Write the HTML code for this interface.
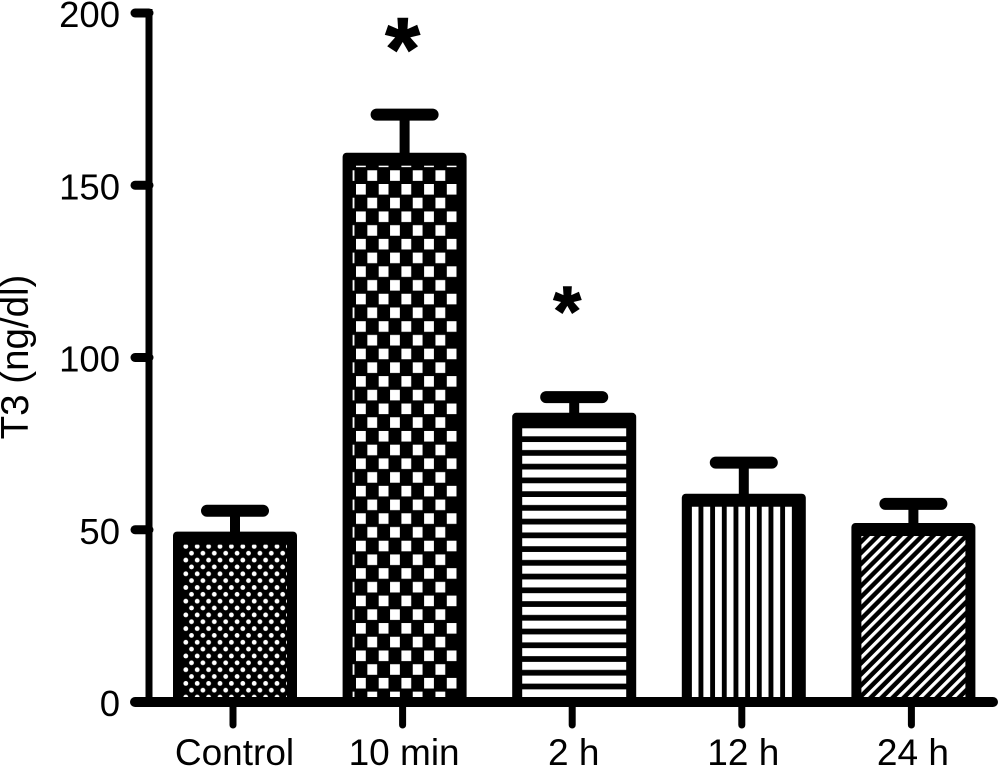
<!DOCTYPE html>
<html lang="en">
<head>
<meta charset="utf-8">
<title>T3 by time point</title>
<style>
html,body{margin:0;padding:0;background:#fff;width:1000px;height:767px;overflow:hidden}
svg{display:block;font-family:"Liberation Sans",Arial,sans-serif}
text{fill:#000}
</style>
</head>
<body>
<svg id="chart" width="1000" height="767" viewBox="0 0 1000 767" xmlns="http://www.w3.org/2000/svg">
  <defs>
    <pattern id="pat-dots" patternUnits="userSpaceOnUse" x="183" y="543" width="11.4" height="13.7">
      <rect width="11.4" height="13.7" fill="#000"/>
      <circle cx="2.8" cy="3.4" r="2.4" fill="#fff"/>
      <circle cx="8.5" cy="10.2" r="2.4" fill="#fff"/>
    </pattern>
    <pattern id="pat-checks" patternUnits="userSpaceOnUse" x="356" y="184" width="22.7" height="27.44">
      <rect width="22.7" height="27.44" fill="#000"/>
      <rect x="0" y="0" width="9.8" height="10.6" fill="#fff"/>
      <rect x="11.35" y="13.72" width="9.8" height="10.6" fill="#fff"/>
    </pattern>
    <pattern id="pat-hlines" patternUnits="userSpaceOnUse" x="522" y="428.3" width="13.74" height="13.74">
      <rect width="13.74" height="13.74" fill="#000"/>
      <rect y="0" width="13.74" height="8" fill="#fff"/>
    </pattern>
    <pattern id="pat-vlines" patternUnits="userSpaceOnUse" x="691.7" y="503" width="11.67" height="11.67">
      <rect width="11.67" height="11.67" fill="#000"/>
      <rect x="0" width="6.8" height="11.67" fill="#fff"/>
    </pattern>
    <pattern id="pat-diag" patternUnits="userSpaceOnUse" x="861" y="534" width="7.8" height="7.8" patternTransform="rotate(45 861 534)">
      <rect width="7.8" height="7.8" fill="#000"/>
      <rect x="0" width="3.3" height="7.8" fill="#fff"/>
    </pattern>
  </defs>
  <g id="bars"></g>
  <g id="axes"></g>
  <text transform="translate(28 357) rotate(-90)" text-anchor="middle" font-size="38.5">T3 (ng/dl)</text>
</svg>
<script>
const categories = ['Control', '10 min', '2 h', '12 h', '24 h'];
const means = [48, 158, 82.5, 59, 50.5];
const errorTops = [55.5, 170.5, 88.5, 69.5, 57.5];
const yTicks = [0, 50, 100, 150, 200];
const barFills = ['pat-dots', 'pat-checks', 'pat-hlines', 'pat-vlines', 'pat-diag'];
const significant = ['', 'large', 'small', '', ''];

const NS = 'http://www.w3.org/2000/svg';
const y = v => 702 - v * 3.445;
const x = i => 235 + i * 169.6;
const barsG = document.getElementById('bars');
const axesG = document.getElementById('axes');

function make(tag, parent, attrs) {
  const el = document.createElementNS(NS, tag);
  for (const k in attrs) el.setAttribute(k, attrs[k]);
  parent.appendChild(el);
  return el;
}

categories.forEach((c, i) => {
  const cx = x(i);
  const top = y(means[i]);
  const capY = y(errorTops[i]);
  const slug = c.replace(/\s+/g, '-').toLowerCase();

  const stem = make('line', barsG, {x1: cx, x2: cx, y1: capY, y2: top, stroke: '#000', 'stroke-width': 10});
  
  

  const cap = make('line', barsG, {x1: cx - 28, x2: cx + 28, y1: capY, y2: capY, stroke: '#000', 'stroke-width': 12, 'stroke-linecap': 'round'});
  
  

  const frame = make('rect', barsG, {x: cx - 62, y: top - 5, width: 124, height: y(0) - top + 5, rx: 4, fill: '#000'});
  
  

  const bar = make('rect', barsG, {x: cx - 52, y: top + 8, width: 104, height: y(0) - top - 11, fill: 'url(#' + barFills[i] + ')'});
  
  

  const tick = make('line', axesG, {x1: cx - 2, x2: cx - 2, y1: y(0), y2: 725, stroke: '#000', 'stroke-width': 7, 'stroke-linecap': 'round'});
  
  

  const label = make('text', axesG, {x: cx - 0.5, y: 765, 'text-anchor': 'middle', 'font-size': 37});
  label.textContent = c;
  
  

  if (significant[i]) {
    const large = significant[i] === 'large';
    const star = make('text', axesG, {x: cx + (large ? -2 : -7), y: top + (large ? -78.5 : -83), 'text-anchor': 'middle', 'font-size': large ? 88 : 70, 'font-weight': 'bold', stroke: '#000', 'stroke-width': 1.5});
    star.textContent = '*';
    
    
  }
});

const yAxis = make('line', axesG, {x1: 149, x2: 149, y1: y(200) - 4, y2: y(0), stroke: '#000', 'stroke-width': 7});



const xAxis = make('line', axesG, {x1: 135, x2: 993, y1: y(0), y2: y(0), stroke: '#000', 'stroke-width': 10, 'stroke-linecap': 'round'});



yTicks.forEach(t => {
  const tick = make('line', axesG, {x1: 135, x2: 149, y1: y(t), y2: y(t), stroke: '#000', 'stroke-width': 9, 'stroke-linecap': 'round'});
  
  

  const label = make('text', axesG, {x: 120, y: y(t) + 14, 'text-anchor': 'end', 'font-size': 36.5});
  label.textContent = t;
  
  
});
</script>
</body>
</html>
